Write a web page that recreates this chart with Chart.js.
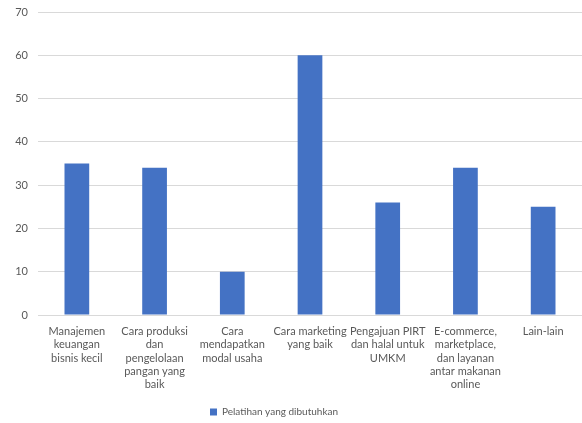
<!DOCTYPE html>
<html>
<head>
<meta charset="utf-8">
<script src="https://cdn.jsdelivr.net/npm/chart.js@4"></script>
<style>
  html, body { margin: 0; padding: 0; background: #ffffff; }
  #wrap { width: 582px; height: 423px; }
</style>
</head>
<body>
<div id="wrap"><canvas id="c" width="582" height="423"></canvas></div>
<script>
// Training topics (wrapped labels) and how many respondents need each one
const categories = [
  ["Manajemen", "keuangan", "bisnis kecil"],
  ["Cara produksi", "dan", "pengelolaan", "pangan yang", "baik"],
  ["Cara", "mendapatkan", "modal usaha"],
  ["Cara marketing", "yang baik"],
  ["Pengajuan PIRT", "dan halal untuk", "UMKM"],
  ["E-commerce,", "marketplace,", "dan layanan", "antar makanan", "online"],
  ["Lain-lain"]
];
const seriesName = "Pelatihan yang dibutuhkan";
const values = [35, 34, 10, 60, 26, 34, 25];
const yTicks = [0, 10, 20, 30, 40, 50, 60, 70];

const textColor = "#595959";
const gridColor = "#d9d9d9";
const barColor = "#4472c4";
const fontFamily = "Lato, 'Open Sans', 'Liberation Sans', sans-serif";

// The legend row sits a little left of the page centre and close to the bottom edge
const legendShift = {
  id: "legendShift",
  afterLayout(chart) {
    const lg = chart.legend;
    if (!lg) return;
    lg.left = 0;
    lg.right = chart.width - 34;
    lg.top += 4;
    lg.bottom += 4;
  }
};

new Chart(document.getElementById("c"), {
  type: "bar",
  data: {
    labels: categories,
    datasets: [{
      label: seriesName,
      data: values,
      backgroundColor: barColor,
      borderWidth: 0,
      categoryPercentage: 1.0,
      barPercentage: 0.318
    }]
  },
  plugins: [legendShift],
  options: {
    responsive: false,
    animation: false,
    layout: { padding: { left: 0, right: 0, top: 12, bottom: 0 } },
    plugins: {
      tooltip: { enabled: false },
      legend: {
        position: "bottom",
        labels: {
          color: textColor,
          font: { family: fontFamily, size: 10, lineHeight: 1.2 },
          boxWidth: 7,
          boxHeight: 7,
          padding: 5
        }
      }
    },
    scales: {
      x: {
        grid: { display: false, drawTicks: false },
        border: { display: false },
        afterFit: (scale) => { scale.height = 83; },
        ticks: {
          color: textColor,
          font: { family: fontFamily, size: 11, lineHeight: 1.2 },
          maxRotation: 0,
          autoSkip: false,
          padding: 10
        }
      },
      y: {
        min: 0,
        max: 70,
        afterBuildTicks: (axis) => { axis.ticks = yTicks.map(v => ({ value: v })); },
        afterFit: (scale) => {
          scale.width = 38;
          scale.paddingTop = 0;
          scale.paddingBottom = 0;
        },
        grid: { color: gridColor, lineWidth: 1, drawTicks: false },
        border: { display: false },
        ticks: {
          color: textColor,
          font: { family: fontFamily, size: 11 },
          padding: 10
        }
      }
    }
  }
});
</script>
</body>
</html>
